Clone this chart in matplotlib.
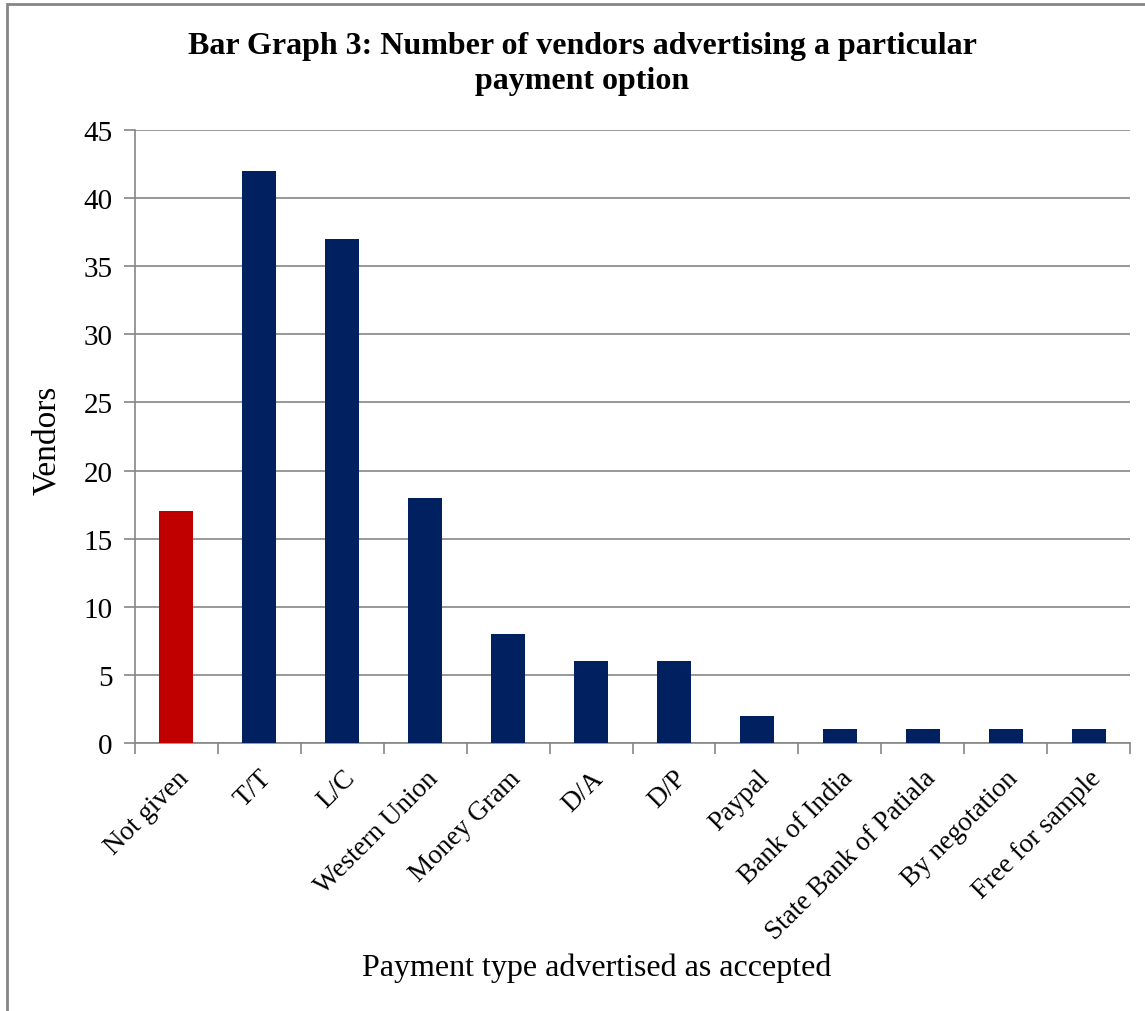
import matplotlib
matplotlib.use("Agg")
from matplotlib import pyplot as plt
from matplotlib.patches import Rectangle

categories = ["Not given", "T/T", "L/C", "Western Union", "Money Gram", "D/A", "D/P",
              "Paypal", "Bank of India", "State Bank of Patiala", "By negotation",
              "Free for sample"]
vendors = [17, 42, 37, 18, 8, 6, 6, 2, 1, 1, 1, 1]
bar_colors = ["#C00000"] + ["#002060"] * 11

plt.rcParams['font.family'] = ['Liberation Serif', 'DejaVu Serif']

W, H = 1145, 1012
fig = plt.figure(figsize=(W / 100, H / 100), dpi=100)

# outer frame (left and top edges visible)
fig.patches.append(Rectangle((7 / W, -0.1), 1.2, 1 - 5 / H + 0.1, transform=fig.transFigure,
                             fill=False, edgecolor="#868686", linewidth=2))

ax = fig.add_axes([135 / W, 1 - 744 / H, (1130 - 135) / W, (744 - 131) / H])
x = list(range(len(categories)))
ax.bar(x, vendors, width=0.41, color=bar_colors, zorder=3)

ax.set_xlim(-0.5, len(categories) - 0.5)
ax.set_ylim(0, 45)
ax.set_yticks(range(0, 46, 5))
ax.yaxis.grid(True, color="#868686", linewidth=1.2, zorder=0)
ax.tick_params(axis='y', labelsize=21, length=8, color="#868686", width=1.2, pad=8)

ax.set_xticks(x)
ax.set_xticklabels(categories, rotation=45, ha='right', rotation_mode='anchor', fontsize=19.5)
ax.tick_params(axis='x', which='major', length=0, pad=16)
ax.set_xticks([i - 0.5 for i in range(len(categories) + 1)], minor=True)
ax.tick_params(axis='x', which='minor', length=8, color="#868686", width=1.2)

for side in ["top", "right"]:
    ax.spines[side].set_visible(False)
for side in ["left", "bottom"]:
    ax.spines[side].set_color("#868686")
    ax.spines[side].set_linewidth(1.2)

fig.text(582 / W, 1 - 64 / H, "Bar Graph 3: Number of vendors advertising a particular\npayment option",
         ha='center', va='center', fontsize=23, fontweight='bold', linespacing=1.3)
fig.text(47 / W, 1 - 440 / H, "Vendors", rotation=90, ha='center', va='center', fontsize=24)
fig.text(597 / W, 1 - 968 / H, "Payment type advertised as accepted", ha='center', va='center', fontsize=23)

plt.savefig("out.png", dpi=100)
plt.close()
